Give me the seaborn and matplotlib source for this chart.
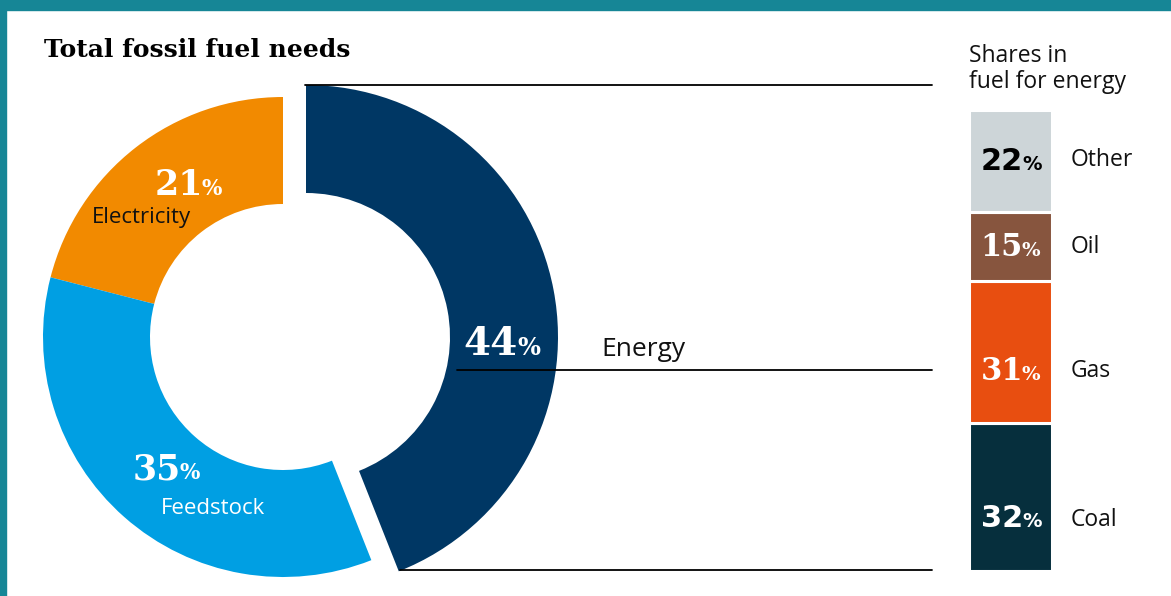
import numpy as np
import matplotlib.pyplot as plt
import matplotlib.patches as mpatches
import seaborn as sns

# data
need_labels = ["Electricity", "Feedstock", "Energy"]
need_values = [21, 35, 44]
need_colors = ["#F28A00", "#009FE3", "#003764"]

fuel_labels = ["Coal", "Gas", "Oil", "Other"]
fuel_values = [32, 31, 15, 22]
fuel_colors = ["#062F3D", "#E84E10", "#87553E", "#CDD5D8"]
fuel_text = ["white", "white", "white", "black"]

W, H = 1171, 596
sns.set_style("white")
plt.rcParams['font.family'] = ['Open Sans', 'DejaVu Sans']

fig = plt.figure(figsize=(W / 100, H / 100), dpi=100)

# stacked bar of fuel shares (drawn first so the text layer sits above it)
bx = fig.add_axes([968.5 / W, (H - 570.5) / H, 83 / W, 460 / H])
bottoms = np.concatenate([[0], np.cumsum(fuel_values)[:-1]])
bx.bar([0] * len(fuel_values), fuel_values, bottom=bottoms, width=1, color=fuel_colors,
       edgecolor="white", linewidth=2.2)
bx.set_xlim(-0.5, 0.5)
bx.set_ylim(0, sum(fuel_values))
bx.axis('off')

ax = fig.add_axes([0, 0, 1, 1])
ax.set_zorder(5)


def Y(p):
    return H - p


# main donut: electricity + feedstock, energy slot left empty
w1, _ = ax.pie(need_values, colors=need_colors, startangle=90, counterclock=True,
               center=(283, Y(337)), radius=240,
               wedgeprops=dict(width=107, linewidth=0))
w1[2].set_visible(False)

# energy slice pulled out to the right, a bit larger
rest = sum(need_values) - need_values[2]
w2, _ = ax.pie([need_values[2], rest], colors=[need_colors[2], "white"], startangle=90,
               counterclock=False, center=(306, Y(337)), radius=252,
               wedgeprops=dict(width=108, linewidth=0))
w2[1].set_visible(False)

ax.set_xlim(0, W)
ax.set_ylim(0, H)
ax.set_aspect('auto')
ax.axis('off')

# connector lines
for x0, yp in [(305, 85), (457, 370), (400, 570)]:
    ax.plot([x0, 932], [Y(yp), Y(yp)], color="black", lw=1.3)

serif = "DejaVu Serif"


def pct(x, yb, val, size, color, fam=serif, psize=None):
    psize = psize or size * 0.62
    ax.text(x, Y(yb), str(val), ha="right", va="baseline", fontsize=size,
            fontweight="bold", color=color, family=fam)
    ax.text(x - 1, Y(yb), "%", ha="left", va="baseline", fontsize=psize,
            fontweight="bold", color=color, family=fam)


ax.text(44, Y(50), "Total fossil fuel needs", ha="left", va="center", fontsize=18,
        fontweight="heavy", family=serif, color="black")

pct(518, 355, need_values[2], 28, "white")
pct(203, 195, need_values[0], 25, "white")
pct(181, 479, need_values[1], 25, "white")
ax.text(141, Y(218), need_labels[0], ha="center", va="center", fontsize=16, color="#111111")
ax.text(213, Y(508), need_labels[1], ha="center", va="center", fontsize=16, color="white")
ax.text(601, Y(350), need_labels[2], ha="left", va="center", fontsize=19, color="#111111")

ax.text(969, Y(56), "Shares in", ha="left", va="center", fontsize=16.5, color="#111111")
ax.text(969, Y(82), "fuel for energy", ha="left", va="center", fontsize=16.5, color="#111111")

label_y = {"Other": 160, "Oil": 247, "Gas": 371, "Coal": 520}
num_base = {"Other": 170, "Oil": 256, "Gas": 380, "Coal": 527}
num_fam = {"Other": "DejaVu Sans", "Oil": serif, "Gas": serif, "Coal": "DejaVu Sans"}
for lab, val, tc in zip(fuel_labels, fuel_values, fuel_text):
    pct(1023, num_base[lab], val, 22, tc, fam=num_fam[lab], psize=14)
    ax.text(1071, Y(label_y[lab]), lab, ha="left", va="center", fontsize=16.5, color="#111111")

# teal frame
teal = "#168696"
fig.patches.append(mpatches.Rectangle((0, Y(10) / H), 1, 10 / H, transform=fig.transFigure,
                                      color=teal, zorder=10))
fig.patches.append(mpatches.Rectangle((0, 0), 6 / W, 1, transform=fig.transFigure,
                                      color=teal, zorder=10))

fig.savefig("out.png", dpi=100)
